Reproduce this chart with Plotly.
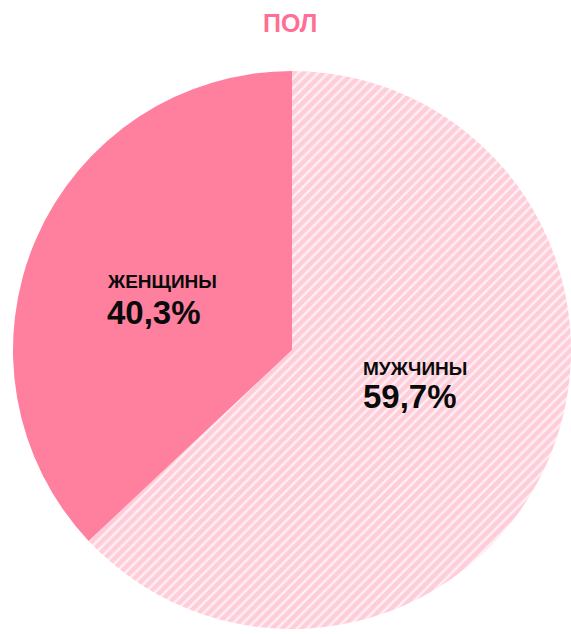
import plotly.graph_objects as go

W, H = 571, 634

# Data
categories = ["МУЖЧИНЫ", "ЖЕНЩИНЫ"]
shares_drawn = [63.0, 37.0]          # slice sizes as drawn in the picture
share_labels = ["59,7%", "40,3%"]    # printed percentages
title_text = "ПОЛ"

solid = "#FF7F9E"
hatch_fg = "#FFA9BF"
hatch_bg = "#FFF0F4"

fig = go.Figure()
fig.add_trace(go.Pie(
    labels=categories,
    values=shares_drawn,
    sort=False,
    direction="clockwise",
    rotation=0,
    textinfo="none",
    hoverinfo="label",
    showlegend=False,
    marker=dict(
        colors=[hatch_bg, solid],
        line=dict(width=0),
        pattern=dict(shape=["/", ""], fgcolor=hatch_fg, bgcolor=hatch_bg,
                     size=7, solidity=0.66, fillmode="overlay"),
    ),
    domain=dict(x=[13 / W, 1.0], y=[(H - 629) / H, (H - 71) / H]),
))

def px(x, y):
    return x / W, 1 - y / H

annots = []
tx, ty = px(290, 23)
annots.append(dict(x=tx, y=ty, text="<b>" + title_text + "</b>", xanchor="center", yanchor="middle",
                   font=dict(size=25, color="#FF6E93", family="Liberation Sans, Arial, sans-serif")))

label_pos = {"ЖЕНЩИНЫ": (105, 281.5, 312.5), "МУЖЧИНЫ": (361, 368.5, 396.5)}
for cat, lab in zip(categories, share_labels):
    lx, y1, y2 = label_pos[cat]
    x1, yy1 = px(lx, y1)
    x2, yy2 = px(lx, y2)
    annots.append(dict(x=x1, y=yy1, text="<b>" + cat + "</b>", xanchor="left", yanchor="middle",
                       font=dict(size=19, color="#0A0A0A", family="Liberation Sans, Arial, sans-serif")))
    annots.append(dict(x=x2, y=yy2, text="<b>" + lab + "</b>", xanchor="left", yanchor="middle",
                       font=dict(size=33, color="#0A0A0A", family="Liberation Sans, Arial, sans-serif")))

for a in annots:
    a.update(xref="paper", yref="paper", showarrow=False)

fig.update_layout(
    width=W, height=H,
    margin=dict(l=0, r=0, t=0, b=0),
    paper_bgcolor="white", plot_bgcolor="white",
    annotations=annots,
)

fig.write_html("out.html")
